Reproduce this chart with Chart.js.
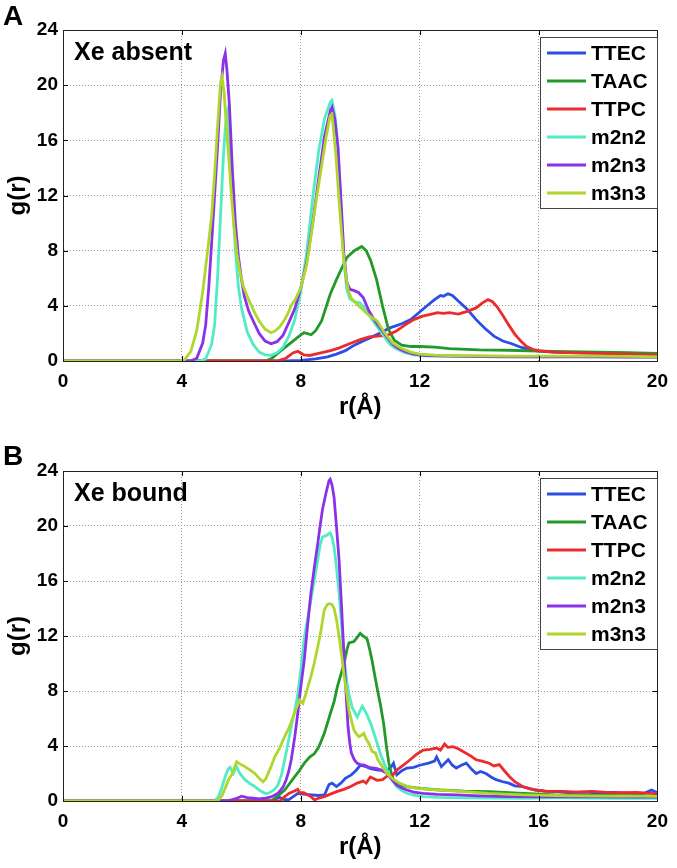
<!DOCTYPE html>
<html>
<head>
<meta charset="utf-8">
<title>g(r) - Xe absent / Xe bound</title>
<script src="https://cdn.jsdelivr.net/npm/chart.js@4.4.0/dist/chart.umd.min.js"></script>
<style>
  body { margin: 0; background: #fff; }
  canvas { display: block; }
</style>
</head>
<body>
<canvas id="panelA" width="677" height="430"></canvas>
<canvas id="panelB" width="677" height="438"></canvas>
<script>
/**
=========================================
              DATA
=========================================
**/

const seriesNames = ['TTEC', 'TAAC', 'TTPC', 'm2n2', 'm2n3', 'm3n3'];
const seriesColors = ['#2b4fe6', '#22992a', '#ec2c2c', '#52ecc4', '#8a32e8', '#aed62c'];
const rTicks = [0, 4, 8, 12, 16, 20];
const gTicks = [0, 4, 8, 12, 16, 20, 24];

// Panel A - Xe absent, [r, g(r)]
const ttecA = [[0,0],[7.5,0],[8.0,0.05],[8.5,0.15],[8.9,0.3],[9.2,0.5],[9.5,0.75],[9.8,1.15],[10.1,1.45],[10.4,1.75],[10.6,1.95],[11.0,2.4],[11.4,2.7],[11.7,3.0],[12.0,3.55],[12.3,4.1],[12.5,4.45],[12.7,4.75],[12.8,4.7],[12.95,4.88],[13.1,4.75],[13.3,4.35],[13.6,3.75],[13.9,3.0],[14.2,2.35],[14.5,1.8],[14.8,1.45],[15.1,1.25],[15.4,1.0],[15.7,0.82],[16.0,0.72],[16.5,0.65],[17,0.6],[18,0.58],[19,0.55],[20,0.5]];
const taacA = [[0,0],[6.8,0],[7.0,0.15],[7.3,0.7],[7.6,1.2],[7.8,1.55],[8.0,1.9],[8.1,2.05],[8.2,2.0],[8.35,1.9],[8.5,2.2],[8.7,2.9],[9.0,4.9],[9.2,5.9],[9.35,6.6],[9.55,7.5],[9.8,8.0],[10.05,8.3],[10.2,8.0],[10.35,7.3],[10.55,5.9],[10.75,4.0],[10.95,2.3],[11.15,1.5],[11.4,1.15],[11.7,1.05],[12.0,1.05],[12.5,1.0],[13.0,0.9],[14.0,0.8],[15.0,0.78],[16.0,0.72],[17.0,0.68],[18.0,0.65],[19.0,0.6],[20.0,0.56]];
const ttpcA = [[0,0],[7.2,0],[7.5,0.2],[7.75,0.6],[7.9,0.7],[8.1,0.45],[8.3,0.4],[8.6,0.55],[9.0,0.75],[9.3,0.95],[9.7,1.3],[10.0,1.55],[10.3,1.75],[10.6,1.8],[10.9,1.85],[11.2,2.15],[11.5,2.6],[11.8,3.0],[12.1,3.25],[12.4,3.4],[12.6,3.5],[12.8,3.45],[13.0,3.5],[13.3,3.4],[13.6,3.6],[13.9,3.85],[14.1,4.2],[14.3,4.45],[14.45,4.3],[14.6,3.95],[14.8,3.3],[15.0,2.6],[15.2,1.95],[15.4,1.45],[15.6,1.05],[15.8,0.85],[16.0,0.75],[16.5,0.65],[17,0.6],[18,0.55],[19,0.5],[20,0.45]];
const m2n2A = [[0,0],[4.6,0],[4.8,0.15],[5.0,1.2],[5.1,2.6],[5.2,6.0],[5.3,10.5],[5.4,15.0],[5.5,18.0],[5.55,18.3],[5.6,16.5],[5.7,12.0],[5.8,8.0],[5.9,5.4],[6.0,3.9],[6.2,2.1],[6.4,1.2],[6.6,0.65],[6.8,0.45],[7.0,0.42],[7.2,0.6],[7.4,1.0],[7.6,1.8],[7.8,3.0],[8.0,5.0],[8.2,7.9],[8.4,11.8],[8.6,15.2],[8.8,17.6],[9.0,18.8],[9.05,18.9],[9.15,17.8],[9.25,15.6],[9.35,11.2],[9.45,7.2],[9.55,5.2],[9.65,4.5],[9.8,4.3],[10.0,4.2],[10.2,3.7],[10.4,3.0],[10.6,2.4],[10.8,1.8],[11.0,1.2],[11.2,0.9],[11.5,0.6],[11.8,0.45],[12.2,0.38],[13,0.35],[14,0.33],[15,0.32],[16,0.3],[17,0.32],[18,0.3],[19,0.3],[20,0.28]];
const m2n3A = [[0,0],[4.3,0],[4.5,0.2],[4.7,1.3],[4.8,2.6],[4.9,5.2],[5.0,8.5],[5.1,12.0],[5.2,15.5],[5.3,19.5],[5.4,21.8],[5.46,22.3],[5.52,21.0],[5.6,18.5],[5.7,13.8],[5.8,10.0],[5.9,7.6],[6.0,6.0],[6.1,4.7],[6.25,3.6],[6.4,2.9],[6.6,2.0],[6.8,1.45],[7.0,1.25],[7.2,1.4],[7.4,1.85],[7.6,2.8],[7.8,3.8],[8.0,5.3],[8.2,7.2],[8.4,10.0],[8.6,13.2],[8.8,16.3],[9.0,18.2],[9.05,18.4],[9.15,17.5],[9.25,15.5],[9.35,11.8],[9.45,7.8],[9.55,5.7],[9.65,5.2],[9.8,5.1],[9.95,4.95],[10.1,4.6],[10.3,3.6],[10.5,2.9],[10.7,2.3],[10.9,1.75],[11.1,1.2],[11.3,0.9],[11.5,0.7],[11.8,0.5],[12.2,0.4],[13,0.35],[14,0.32],[15,0.3],[16,0.3],[17,0.3],[18,0.3],[19,0.28],[20,0.28]];
const m3n3A = [[0,0],[3.9,0],[4.1,0.1],[4.3,0.7],[4.5,2.2],[4.7,5.0],[4.9,8.6],[5.0,10.5],[5.1,13.5],[5.2,17.0],[5.3,20.2],[5.35,20.6],[5.42,19.5],[5.5,17.0],[5.57,15.0],[5.65,12.5],[5.75,9.8],[5.85,7.8],[5.95,6.5],[6.07,5.4],[6.2,4.7],[6.3,4.2],[6.46,3.45],[6.6,2.9],[6.8,2.3],[7.0,2.05],[7.15,2.2],[7.3,2.5],[7.46,3.0],[7.6,3.6],[7.68,4.05],[7.8,4.4],[8.0,5.3],[8.2,7.0],[8.34,9.0],[8.5,11.4],[8.68,13.85],[8.85,16.2],[8.99,17.8],[9.05,17.9],[9.18,15.0],[9.26,12.5],[9.34,10.2],[9.42,8.0],[9.51,6.3],[9.6,5.1],[9.7,4.55],[9.9,4.1],[10.1,3.7],[10.3,3.3],[10.57,2.9],[10.8,2.1],[11.1,1.3],[11.4,0.9],[11.7,0.65],[12.0,0.5],[12.5,0.42],[13,0.4],[14,0.38],[15,0.36],[16,0.35],[17,0.35],[18,0.35],[19,0.33],[20,0.3]];

// Panel B - Xe bound, [r, g(r)]
const ttecB = [[0,0],[7.1,0],[7.25,0.3],[7.45,0.1],[7.6,0.1],[7.9,0.55],[8.1,0.5],[8.35,0.45],[8.6,0.4],[8.8,0.45],[8.95,1.2],[9.05,1.3],[9.2,1.05],[9.35,1.3],[9.5,1.65],[9.7,1.9],[9.85,2.2],[10.0,2.6],[10.2,2.5],[10.35,2.35],[10.6,2.25],[10.9,2.25],[11.05,2.5],[11.12,2.75],[11.23,1.9],[11.4,2.2],[11.57,2.4],[11.8,2.45],[12.0,2.6],[12.3,2.75],[12.5,2.9],[12.57,3.2],[12.73,2.5],[12.96,3.0],[13.1,2.6],[13.23,2.4],[13.4,2.6],[13.57,2.75],[13.75,2.3],[13.9,2.0],[14.05,2.15],[14.23,2.0],[14.4,1.75],[14.57,1.55],[14.8,1.4],[15.0,1.3],[15.2,1.1],[15.46,1.05],[15.7,0.9],[15.9,0.8],[16.2,0.72],[16.6,0.68],[17.0,0.62],[17.5,0.65],[18.0,0.6],[18.5,0.62],[19.0,0.55],[19.5,0.5],[19.8,0.8],[20,0.6]];
const taacB = [[0,0],[7.0,0],[7.12,0.2],[7.3,0.5],[7.46,0.8],[7.6,1.2],[7.79,1.75],[7.95,2.2],[8.12,2.75],[8.3,3.2],[8.46,3.45],[8.6,3.9],[8.79,4.9],[9.0,6.4],[9.12,7.2],[9.23,8.3],[9.35,9.2],[9.46,10.0],[9.55,11.0],[9.62,11.5],[9.79,11.6],[9.9,11.9],[10.0,12.2],[10.1,12.0],[10.23,11.8],[10.32,11.0],[10.4,10.2],[10.5,9.0],[10.57,8.2],[10.68,7.0],[10.79,5.6],[10.88,4.0],[10.96,2.8],[11.05,2.0],[11.12,1.55],[11.3,1.2],[11.57,1.05],[12.0,0.92],[12.68,0.8],[13.5,0.72],[14.34,0.68],[15.5,0.55],[16.57,0.45],[17.5,0.42],[18.5,0.4],[19.5,0.38],[20,0.35]];
const ttpcB = [[0,0],[7.3,0],[7.46,0.32],[7.6,0.55],[7.79,0.72],[7.9,0.85],[7.96,0.6],[8.1,0.6],[8.23,0.45],[8.35,0.3],[8.46,0.08],[8.6,0.2],[8.79,0.32],[9.0,0.5],[9.23,0.7],[9.45,0.85],[9.68,1.05],[9.9,1.3],[10.1,1.45],[10.2,1.3],[10.34,1.75],[10.57,1.5],[10.75,1.55],[10.9,1.8],[11.1,1.9],[11.23,2.25],[11.45,2.6],[11.68,3.0],[11.9,3.4],[12.12,3.7],[12.35,3.75],[12.57,3.85],[12.7,3.7],[12.84,4.15],[12.95,3.9],[13.12,3.95],[13.3,3.8],[13.46,3.6],[13.7,3.3],[13.9,3.0],[14.1,2.9],[14.34,2.75],[14.5,2.55],[14.68,2.65],[14.85,2.2],[15.01,1.8],[15.2,1.4],[15.46,1.05],[15.7,0.9],[15.9,0.8],[16.3,0.7],[16.8,0.7],[17.3,0.65],[17.8,0.7],[18.3,0.62],[18.8,0.6],[19.3,0.62],[19.8,0.55],[20,0.5]];
const m2n2B = [[0,0],[5.1,0],[5.23,0.32],[5.35,1.0],[5.46,1.8],[5.55,2.3],[5.62,2.45],[5.73,2.0],[5.84,2.5],[5.95,2.0],[6.12,1.55],[6.3,1.25],[6.46,1.05],[6.6,0.8],[6.79,0.56],[6.9,0.55],[7.01,0.68],[7.12,0.85],[7.23,1.16],[7.35,1.9],[7.46,3.0],[7.57,4.2],[7.68,5.4],[7.8,6.6],[7.9,7.8],[8.0,9.5],[8.12,11.9],[8.2,12.9],[8.34,14.6],[8.45,16.0],[8.57,17.5],[8.65,18.6],[8.73,19.2],[8.85,19.3],[8.99,19.5],[9.05,19.2],[9.12,18.5],[9.2,17.0],[9.29,15.1],[9.38,12.6],[9.46,10.3],[9.55,8.7],[9.62,7.8],[9.73,6.8],[9.85,6.3],[9.9,6.1],[10.0,6.6],[10.07,6.9],[10.2,6.4],[10.34,5.7],[10.45,5.0],[10.57,4.2],[10.7,3.3],[10.9,2.25],[11.05,1.6],[11.23,1.04],[11.4,0.75],[11.57,0.56],[11.8,0.42],[12.12,0.32],[12.6,0.26],[13.5,0.22],[14.5,0.22],[15.5,0.2],[16.5,0.22],[17.5,0.22],[18.5,0.2],[19.5,0.2],[20,0.2]];
const m2n3B = [[0,0],[5.5,0],[5.7,0.1],[5.85,0.2],[6.01,0.35],[6.2,0.25],[6.4,0.2],[6.6,0.15],[6.79,0.2],[7.0,0.3],[7.23,0.56],[7.4,1.0],[7.51,1.55],[7.6,2.2],[7.68,3.0],[7.8,4.7],[7.9,6.4],[8.0,8.3],[8.12,10.3],[8.23,12.8],[8.34,15.1],[8.45,16.9],[8.57,18.7],[8.65,20.0],[8.73,21.2],[8.85,22.4],[8.95,23.3],[8.99,23.4],[9.05,23.0],[9.12,22.1],[9.2,20.0],[9.29,17.5],[9.38,13.8],[9.46,10.3],[9.53,7.6],[9.59,5.4],[9.65,4.2],[9.7,3.5],[9.8,3.0],[9.9,2.74],[10.0,2.65],[10.12,2.62],[10.3,2.45],[10.57,2.35],[10.75,2.2],[10.9,2.0],[11.05,1.6],[11.23,1.16],[11.4,0.95],[11.57,0.8],[11.8,0.65],[12.12,0.56],[12.6,0.48],[13.23,0.44],[14,0.38],[15,0.32],[16,0.3],[17,0.3],[18,0.3],[19,0.28],[20,0.28]];
const m3n3B = [[0,0],[5.1,0],[5.23,0.07],[5.35,0.4],[5.45,0.9],[5.57,1.55],[5.7,2.0],[5.78,2.5],[5.84,2.86],[5.95,2.7],[6.12,2.5],[6.3,2.25],[6.46,2.0],[6.6,1.65],[6.73,1.4],[6.82,1.6],[6.9,2.0],[7.0,2.5],[7.12,3.2],[7.3,3.9],[7.46,4.7],[7.6,5.3],[7.79,6.4],[7.9,7.0],[7.96,7.35],[8.07,7.1],[8.2,8.0],[8.34,9.04],[8.45,10.0],[8.57,11.2],[8.68,12.4],[8.79,13.9],[8.9,14.3],[8.96,14.35],[9.05,14.3],[9.12,14.0],[9.2,13.2],[9.29,11.95],[9.38,10.5],[9.46,9.04],[9.55,7.8],[9.62,6.62],[9.7,5.9],[9.79,5.16],[9.9,4.8],[9.96,4.68],[10.05,4.8],[10.12,4.92],[10.2,4.5],[10.29,4.2],[10.4,3.6],[10.51,3.5],[10.6,2.95],[10.75,2.5],[10.9,2.0],[11.1,1.6],[11.34,1.28],[11.6,1.05],[11.9,0.92],[12.3,0.85],[12.68,0.8],[13.5,0.68],[14.34,0.56],[15.5,0.45],[16.5,0.4],[17.5,0.38],[18.5,0.36],[19.5,0.35],[20,0.33]];


/**
=========================================
           PANEL DECORATION PLUGIN
=========================================
**/

const FONT = '"Liberation Sans", Arial, Helvetica, sans-serif';

// Matlab-like box, inner ticks, labels, panel letter and legend
const panelDecor = {
    id: 'panelDecor',
    afterDraw(chart, args, opts) {
        const ctx = chart.ctx;
        const a = chart.chartArea;
        const xs = chart.scales.x;
        const ys = chart.scales.y;
        ctx.save();

        // inner tick marks on all four sides
        ctx.strokeStyle = '#000';
        ctx.lineWidth = 1;
        ctx.beginPath();
        rTicks.forEach(v => {
            const x = Math.round(xs.getPixelForValue(v)) + 0.5;
            ctx.moveTo(x, a.bottom); ctx.lineTo(x, a.bottom - 5);
            ctx.moveTo(x, a.top); ctx.lineTo(x, a.top + 5);
        });
        gTicks.forEach(v => {
            const y = Math.round(ys.getPixelForValue(v)) + 0.5;
            ctx.moveTo(a.left, y); ctx.lineTo(a.left + 5, y);
            ctx.moveTo(a.right, y); ctx.lineTo(a.right - 5, y);
        });
        ctx.stroke();

        // box
        ctx.strokeStyle = '#222';
        ctx.strokeRect(Math.round(a.left) + 0.5, Math.round(a.top) + 0.5,
                       Math.round(a.right - a.left), Math.round(a.bottom - a.top));

        ctx.fillStyle = '#000';

        // panel letter
        ctx.font = 'bold 28px ' + FONT;
        ctx.textAlign = 'left';
        ctx.textBaseline = 'alphabetic';
        ctx.fillText(opts.letter, 3, opts.letterY);

        // condition note
        ctx.font = 'bold 25px ' + FONT;
        ctx.fillText(opts.note, a.left + 11, a.top + 30);

        // axis titles
        ctx.font = 'bold 24px ' + FONT;
        ctx.textAlign = 'center';
        ctx.textBaseline = 'middle';
        ctx.fillText('r(Å)', (a.left + a.right) / 2, a.bottom + 46);
        ctx.save();
        ctx.translate(18, (a.top + a.bottom) / 2);
        ctx.rotate(-Math.PI / 2);
        ctx.fillText('g(r)', 0, 0);
        ctx.restore();

        // legend box
        const lx = 540, ly = a.top + 7, lw = 117, lh = 171;
        ctx.fillStyle = '#fff';
        ctx.fillRect(lx, ly, lw, lh);
        ctx.strokeStyle = '#444';
        ctx.strokeRect(lx + 0.5, ly + 0.5, lw, lh);
        ctx.font = 'bold 21px ' + FONT;
        ctx.textAlign = 'left';
        ctx.textBaseline = 'middle';
        chart.data.datasets.forEach((ds, i) => {
            const y = ly + 16 + 28 * i;
            ctx.strokeStyle = ds.borderColor;
            ctx.lineWidth = 3;
            ctx.beginPath();
            ctx.moveTo(547, y); ctx.lineTo(586, y);
            ctx.stroke();
            ctx.fillStyle = '#000';
            ctx.fillText(ds.label, 591, y + 1);
        });

        ctx.restore();
    }
};


/**
=========================================
                 BUILD PANELS
=========================================
**/

function makePanel(canvasId, seriesList, letter, note, topPad, xHeight, letterY) {
    const datasets = seriesList.map((pts, i) => ({
        label: seriesNames[i],
        data: pts.map(p => ({ x: p[0], y: p[1] })),
        borderColor: seriesColors[i],
        backgroundColor: seriesColors[i],
        borderWidth: 2.8,
        pointRadius: 0,
        tension: 0,
        fill: false,
        order: seriesList.length - i
    }));

    return new Chart(document.getElementById(canvasId), {
        type: 'line',
        data: { datasets: datasets },
        options: {
            responsive: false,
            animation: false,
            devicePixelRatio: 1,
            layout: { padding: { top: topPad, right: 14, left: 0, bottom: 0 } },
            plugins: {
                legend: { display: false },
                tooltip: { enabled: false },
                panelDecor: { letter: letter, note: note, letterY: letterY }
            },
            scales: {
                x: {
                    type: 'linear',
                    min: 0,
                    max: 20,
                    afterBuildTicks: s => { s.ticks = rTicks.map(v => ({ value: v })); },
                    afterFit: s => { s.height = xHeight; },
                    ticks: { color: '#000', padding: 9, maxRotation: 0, font: { family: FONT, size: 19, weight: 'bold' } },
                    grid: { color: '#9a9a9a', drawTicks: false, lineWidth: 1 },
                    border: { display: true, color: '#000', dash: [1, 2] }
                },
                y: {
                    type: 'linear',
                    min: 0,
                    max: 24,
                    afterBuildTicks: s => { s.ticks = gTicks.map(v => ({ value: v })); },
                    afterFit: s => { s.width = 63; },
                    ticks: { color: '#000', padding: 5, font: { family: FONT, size: 19, weight: 'bold' } },
                    grid: { color: '#9a9a9a', drawTicks: false, lineWidth: 1 },
                    border: { display: true, color: '#000', dash: [1, 2] }
                }
            }
        },
        plugins: [panelDecor]
    });
}

makePanel('panelA', [ttecA, taacA, ttpcA, m2n2A, m2n3A, m3n3A], 'A', 'Xe absent', 30, 69, 25);
makePanel('panelB', [ttecB, taacB, ttpcB, m2n2B, m2n3B, m3n3B], 'B', 'Xe bound', 41, 67, 35);
</script>
</body>
</html>
